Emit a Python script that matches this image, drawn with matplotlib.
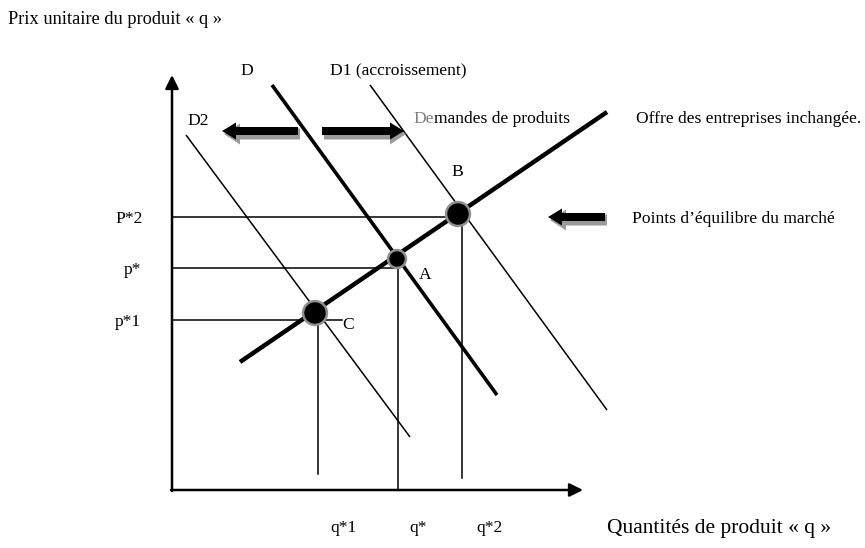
import matplotlib.pyplot as plt
from matplotlib.patches import FancyArrow, Circle

# repere en pixels de l'image (y vers le bas)
origine = (172, 490)
bout_axe_y = (172, 75)
bout_axe_x = (583, 490)

# droites d'offre et de demande : (x0, y0, x1, y1)
offre = (240, 362, 607, 112)
demande_D = (272, 85, 497, 395)
demande_D1 = (370, 85, 607, 410)
demande_D2 = (186, 135, 410, 437)

# points d'equilibre : nom, x, y, rayon
equilibres_nom = ["C", "A", "B"]
equilibres_x = [315, 397, 458]
equilibres_y = [313, 259, 214]
equilibres_r = [10, 7, 10]

# prix (horizontales) et quantites (verticales)
prix_labels = ["P*2", "p*", "p*1"]
prix_y = [217, 268, 320]
prix_fin_x = [458, 397, 342]
quant_labels = ["q*1", "q*", "q*2"]
quant_x = [318, 398, 462]
quant_haut_y = [320, 265, 217]
quant_bas_y = [474, 490, 478]

serif = "Liberation Serif"
fs = 12.6

fig = plt.figure(figsize=(8.65, 5.48), dpi=100)
ax = fig.add_axes([0, 0, 1, 1])
ax.set_xlim(0, 865)
ax.set_ylim(548, 0)
ax.axis("off")

# axes avec fleches
ax.annotate("", xy=bout_axe_y, xytext=(origine[0], origine[1] + 1),
            arrowprops=dict(arrowstyle="-|>", lw=1.8, color="black", mutation_scale=20, shrinkA=0, shrinkB=0))
ax.annotate("", xy=bout_axe_x, xytext=(origine[0] - 1, origine[1]),
            arrowprops=dict(arrowstyle="-|>", lw=1.8, color="black", mutation_scale=20, shrinkA=0, shrinkB=0))

# lignes de prix et quantites
for y, xf in zip(prix_y, prix_fin_x):
    ax.plot([origine[0], xf], [y, y], color="black", lw=1.1)
for x, yh, yb in zip(quant_x, quant_haut_y, quant_bas_y):
    ax.plot([x, x], [yh, yb], color="black", lw=1.1)

# demandes
for d, lw in [(demande_D2, 1.1), (demande_D1, 1.1), (demande_D, 2.6)]:
    ax.plot([d[0], d[2]], [d[1], d[3]], color="black", lw=lw, solid_capstyle="butt")
ax.plot([offre[0], offre[2]], [offre[1], offre[3]], color="black", lw=3.2, solid_capstyle="butt")

# points d'equilibre avec halo gris
for x, y, r in zip(equilibres_x, equilibres_y, equilibres_r):
    ax.add_patch(Circle((x, y), r + 2.5, color="#909090", zorder=5))
    ax.add_patch(Circle((x, y), r, color="black", zorder=6))


def grosse_fleche(x, y, dx):
    # ombre grise puis fleche noire
    ax.add_patch(FancyArrow(x + 2, y + 3, dx, 0, width=11, head_width=21, head_length=16,
                            length_includes_head=True, color="#9a9a9a", lw=0, zorder=4))
    ax.add_patch(FancyArrow(x, y, dx, 0, width=8, head_width=17, head_length=14,
                            length_includes_head=True, color="black", lw=0, zorder=5))


grosse_fleche(298, 131, -76)
grosse_fleche(322, 131, 82)
grosse_fleche(605, 217, -57)

# textes
txt = dict(family=serif, fontsize=fs, color="black")
ax.text(8, 20, "Prix unitaire du produit « q »", va="center", ha="left", family=serif, fontsize=13.2)
ax.text(607, 528, "Quantités de produit « q »", va="center", ha="left", family=serif, fontsize=15.5)
ax.text(240, 71, "D", va="center", ha="left", **txt)
ax.text(330, 71, "D1 (accroissement)", va="center", ha="left", **txt)
ax.text(187, 121, "D2", va="center", ha="left", **txt)
ax.text(413, 119, "De", va="center", ha="left", family=serif, fontsize=fs, color="#808080")
ax.text(434, 119, "mandes de produits", va="center", ha="left", **txt)
ax.text(636, 119, "Offre des entreprises inchangée.", va="center", ha="left", **txt)
ax.text(632, 219, "Points d\u2019équilibre du marché", va="center", ha="left", **txt)
ax.text(451, 172, "B", va="center", ha="left", **txt)
ax.text(419, 275, "A", va="center", ha="left", **txt)
ax.text(342, 325, "C", va="center", ha="left", **txt)

prix_x = [115, 124, 115]
for lab, x, y in zip(prix_labels, prix_x, prix_y):
    ax.text(x, y + 2, lab, va="center", ha="left", **txt)
quant_lab_x = [330, 409, 476]
for lab, x in zip(quant_labels, quant_lab_x):
    ax.text(x, 528, lab, va="center", ha="left", **txt)

fig.savefig("out.png", dpi=100)
